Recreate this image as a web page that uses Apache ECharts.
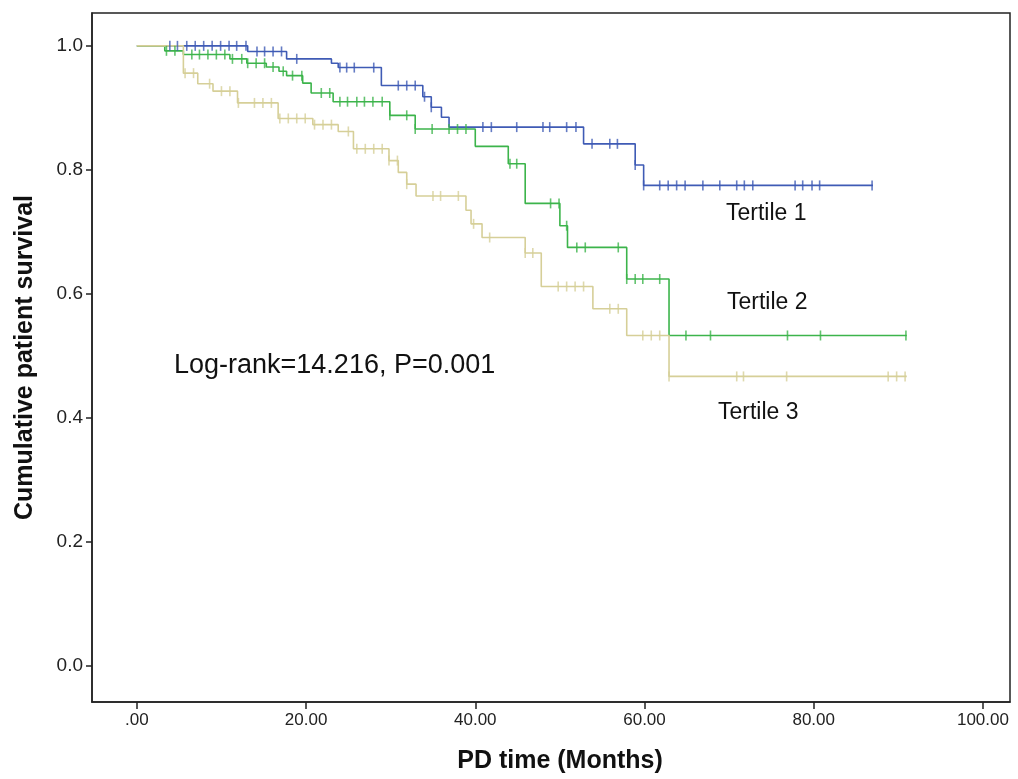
<!DOCTYPE html>
<html>
<head>
<meta charset="utf-8">
<script src="https://cdn.jsdelivr.net/npm/echarts@6/dist/echarts.min.js"></script>
<style>
  html, body { margin: 0; padding: 0; background: #fff; }
  #main { width: 1018px; height: 779px; }
</style>
</head>
<body>
<div id="main"></div>
<script>
// Kaplan-Meier steps: [time, survival after the drop]
var t1Steps = [[0, 1.0], [13.1, 0.991], [17.7, 0.979], [23.0, 0.972], [23.8, 0.965], [28.9, 0.936],
  [33.8, 0.918], [34.8, 0.901], [36.0, 0.885], [36.9, 0.869], [52.8, 0.842], [58.9, 0.808], [59.9, 0.775]]
var t1End = 87.0
var t1Censor = [3.9, 4.8, 5.9, 6.9, 7.9, 8.9, 9.9, 10.9, 11.8, 12.9, 14.2, 15.1, 16.1, 17.1, 18.9,
  24.0, 24.8, 25.7, 28.0, 30.9, 31.9, 32.9, 34.0, 34.8, 40.9, 41.9, 44.9, 48.0, 48.8, 50.8, 51.9,
  53.8, 55.9, 56.8, 58.9, 59.9, 61.8, 62.8, 63.8, 64.8, 66.9, 68.9, 70.9, 71.8, 72.8,
  77.8, 78.7, 79.8, 80.7, 86.9]

var t2Steps = [[0, 1.0], [3.3, 0.992], [5.5, 0.986], [11.0, 0.979], [13.0, 0.972], [15.3, 0.966],
  [16.8, 0.959], [17.7, 0.952], [19.6, 0.940], [20.6, 0.924], [23.2, 0.910], [29.9, 0.888],
  [32.9, 0.866], [40.0, 0.838], [43.9, 0.810], [45.9, 0.746], [50.0, 0.710], [50.9, 0.675],
  [57.9, 0.624], [62.9, 0.533]]
var t2End = 91.0
var t2Censor = [3.5, 4.5, 6.5, 7.4, 8.4, 9.4, 10.4, 11.3, 12.4, 13.1, 14.1, 15.1, 16.1, 17.3,
  18.4, 19.5, 21.8, 22.8, 24.0, 24.9, 26.0, 26.9, 27.9, 29.0, 29.9, 31.9, 32.9, 34.9, 36.9,
  37.9, 38.9, 44.1, 44.9, 48.9, 49.9, 50.8, 52.0, 53.0, 56.9, 57.9, 58.9, 59.8, 61.8,
  64.9, 67.8, 76.9, 80.8, 90.9]

var t3Steps = [[0, 1.0], [5.5, 0.956], [7.2, 0.939], [9.0, 0.927], [11.9, 0.908], [16.7, 0.883],
  [20.8, 0.873], [23.8, 0.862], [25.6, 0.834], [29.8, 0.815], [30.9, 0.796], [31.9, 0.777],
  [33.0, 0.758], [38.9, 0.735], [39.5, 0.713], [40.8, 0.691], [45.9, 0.666], [47.8, 0.612],
  [53.9, 0.576], [57.9, 0.533], [62.9, 0.467]]
var t3End = 91.0
var t3Censor = [5.7, 6.7, 8.6, 10.0, 11.0, 12.0, 13.9, 14.9, 15.9, 16.9, 17.9, 18.9, 19.9,
  21.0, 22.0, 23.0, 25.0, 26.0, 27.0, 28.0, 29.0, 29.8, 30.8, 31.9, 35.0, 35.9, 38.0, 39.8,
  41.7, 45.9, 46.8, 49.8, 50.8, 51.8, 52.8, 55.9, 56.9, 59.8, 60.8, 61.8,
  62.9, 70.9, 71.7, 76.8, 88.8, 89.8, 90.8]

var xTicks = [0, 20, 40, 60, 80, 100]
var yTicks = [0, 0.2, 0.4, 0.6, 0.8, 1.0]
var groupNames = ['Tertile 1', 'Tertile 2', 'Tertile 3']
var groupColors = ['#3f5bb5', '#3cb44b', '#d6cf98']

// survival level at time t (value after any drop at t)
function levelAt (steps, t) {
  var s = steps[0][1]
  for (var i = 0; i < steps.length; i++) {
    if (steps[i][0] <= t + 1e-9) s = steps[i][1]
  }
  return s
}

function buildSeries (name, steps, endT, censor, color) {
  var line = steps.slice()
  line.push([endT, steps[steps.length - 1][1]])
  return [{
    name: name,
    type: 'line',
    step: 'end',
    data: line,
    showSymbol: false,
    lineStyle: {color: color, width: 1.6},
    z: 2
  }, {
    name: name + ' censored',
    type: 'scatter',
    data: censor.map(function (t) { return [t, levelAt(steps, t)] }),
    symbol: 'rect',
    symbolSize: [1.6, 10],
    itemStyle: {color: color},
    z: 3
  }]
}

var series = []
  .concat(buildSeries(groupNames[0], t1Steps, t1End, t1Censor, groupColors[0]))
  .concat(buildSeries(groupNames[1], t2Steps, t2End, t2Censor, groupColors[1]))
  .concat(buildSeries(groupNames[2], t3Steps, t3End, t3Censor, groupColors[2]))

var chart = echarts.init(document.getElementById('main'), null, {renderer: 'canvas'})
chart.setOption({
  animation: false,
  grid: {
    left: 92,
    right: 8,
    top: 13,
    bottom: 76,
    show: true,
    borderColor: '#222',
    borderWidth: 1.5
  },
  xAxis: {
    type: 'value',
    min: -5.3,
    max: 103.2,
    name: 'PD time (Months)',
    nameLocation: 'middle',
    nameGap: 47,
    nameTextStyle: {fontFamily: 'Liberation Sans', fontWeight: 'bold', fontSize: 25, color: '#111', padding: [0, 0, 0, 18]},
    axisLine: {onZero: false, lineStyle: {color: '#222', width: 1.5}},
    axisTick: {customValues: xTicks, length: 7, lineStyle: {color: '#222', width: 1.5}},
    axisLabel: {
      customValues: xTicks,
      margin: 10,
      fontFamily: 'Liberation Sans Narrow, Liberation Sans',
      fontSize: 17,
      color: '#222',
      formatter: function (v) { return v === 0 ? '.00' : v.toFixed(2) }
    },
    splitLine: {show: false}
  },
  yAxis: {
    type: 'value',
    min: -0.058,
    max: 1.053,
    name: 'Cumulative patient survival',
    nameLocation: 'middle',
    nameGap: 54,
    nameTextStyle: {fontFamily: 'Liberation Sans', fontWeight: 'bold', fontSize: 25, color: '#111'},
    axisLine: {onZero: false, lineStyle: {color: '#222', width: 1.5}},
    axisTick: {customValues: yTicks, length: 6, lineStyle: {color: '#222', width: 1.5}},
    axisLabel: {
      customValues: yTicks,
      margin: 9,
      fontFamily: 'Liberation Sans',
      fontSize: 19,
      color: '#222',
      formatter: function (v) { return v.toFixed(1) }
    },
    splitLine: {show: false}
  },
  graphic: [
    {type: 'text', left: 174, top: 352, style: {text: 'Log-rank=14.216, P=0.001', font: '27px "Liberation Sans"', fill: '#111'}},
    {type: 'text', left: 726, top: 202, style: {text: groupNames[0], font: '23px "Liberation Sans"', fill: '#111'}},
    {type: 'text', left: 727, top: 291, style: {text: groupNames[1], font: '23px "Liberation Sans"', fill: '#111'}},
    {type: 'text', left: 718, top: 401, style: {text: groupNames[2], font: '23px "Liberation Sans"', fill: '#111'}}
  ],
  series: series
})
</script>
</body>
</html>
